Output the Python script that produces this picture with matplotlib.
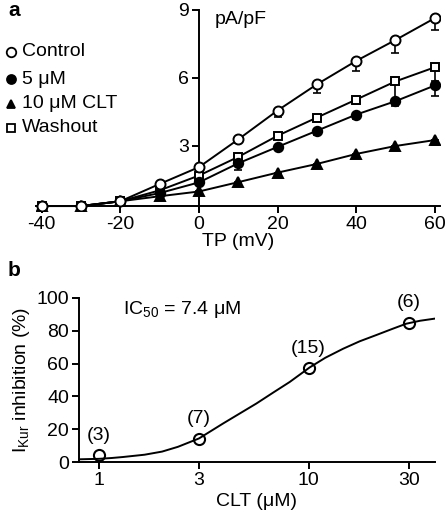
import numpy as np
import matplotlib
matplotlib.use('Agg')
import matplotlib.pyplot as plt

plt.rcParams['font.family'] = ['Liberation Sans', 'DejaVu Sans']
plt.rcParams['mathtext.fontset'] = 'custom'
plt.rcParams['mathtext.rm'] = 'Liberation Sans'
plt.rcParams['mathtext.it'] = 'Liberation Sans'
plt.rcParams['font.size'] = 14

# --- Panel a: I-V relation (pA/pF) ---
tp_mv = [-40, -30, -20, -10, 0, 10, 20, 30, 40, 50, 60]
control = [0.36, 0.36, 0.57, 1.33, 2.07, 3.29, 4.56, 5.71, 6.74, 7.66, 8.62]
control_err = [0, 0, 0, 0.08, 0.1, 0.15, 0.3, 0.4, 0.45, 0.55, 0.5]
clt5 = [0.36, 0.36, 0.57, 0.93, 1.40, 2.24, 2.96, 3.67, 4.38, 4.97, 5.66]
clt5_err = [0, 0, 0, 0.05, 0.1, 0.3, 0.15, 0.2, 0.2, 0.2, 0.45]
clt10 = [0.36, 0.36, 0.57, 0.79, 1.00, 1.41, 1.83, 2.21, 2.65, 3.00, 3.26]
clt10_err = [0, 0, 0, 0.05, 0.05, 0.05, 0.05, 0.08, 0.1, 0.1, 0.23]
washout = [0.36, 0.36, 0.57, 1.05, 1.70, 2.52, 3.45, 4.25, 5.04, 5.84, 6.46]
washout_err = [0, 0, 0, 0.05, 0.1, 0.1, 0.1, 0.15, 0.2, 0.8, 0.6]

# --- Panel b: concentration-response ---
conc_um = [1, 3, 10, 30]
inhibition = [4.2, 14.3, 57.2, 84.8]
n_cells = ['(3)', '(7)', '(15)', '(6)']
# fitted curve
fit_conc = [0.8, 1.0, 1.15, 1.3, 1.65, 2.0, 2.38, 3.0, 3.91, 4.6, 5.63, 6.8,
            8.12, 10.1, 12, 14.6, 17.5, 21, 25, 29.2, 34, 40]
fit_inh = [1.8, 2.1, 2.6, 3.2, 4.6, 6.5, 9.4, 14.5, 23.6, 29.0, 35.7, 42.5,
           48.8, 57.6, 63.5, 69.0, 73.5, 77.3, 81.0, 84.2, 86.0, 87.3]

fig = plt.figure(figsize=(4.47, 5.2), dpi=100)

# Panel a
ax1 = fig.add_axes([0.0801, 0.5937, 0.904, 0.388])
lw = 1.4
series = [
    (control, control_err, 'o', 'white', 7.2, 'Control'),
    (clt5, clt5_err, 'o', 'black', 6.8, '5 μM'),
    (clt10, clt10_err, '^', 'black', 6.8, '10 μM CLT'),
    (washout, washout_err, 's', 'white', 6.2, 'Washout'),
]
for vals, err, mk, fc, ms, lab in series:
    ax1.errorbar(tp_mv, vals, yerr=[err, [0] * len(err)], fmt='-', color='black',
                 lw=lw, elinewidth=1.2, capsize=3, capthick=1.2, zorder=2)
for vals, err, mk, fc, ms, lab in series[::-1]:
    ax1.plot(tp_mv, vals, mk, mfc=fc, mec='black', mew=1.4, ms=ms, zorder=3)

ax1.set_xlim(-41.5, 61.3)
ax1.set_ylim(0.13, 9.0)
ax1.spines['left'].set_position(('data', 0))
ax1.spines['bottom'].set_position(('data', 0.36))
ax1.spines['top'].set_visible(False)
ax1.spines['right'].set_visible(False)
for s in ('left', 'bottom'):
    ax1.spines[s].set_linewidth(1.4)
ax1.set_xticks([-40, -20, 0, 20, 40, 60])
ax1.set_xticklabels(['-40', '-20', '0', '20', '40', '60'])
ax1.set_yticks([3, 6, 9])
ax1.tick_params(direction='out', length=5, width=1.4, labelsize=14, pad=2)
ax1.set_xlabel('TP (mV)', fontsize=14, labelpad=0)
ax1.text(4, 8.95, 'pA/pF', fontsize=14, va='top', ha='left')

# legend drawn as figure text
leg_y = [52, 79, 104, 128]
for (vals, err, mk, fc, ms, lab), yp in zip(series, leg_y):
    fy = 1 - yp / 520
    fig.lines.append(plt.Line2D([11 / 447], [fy], marker=mk, mfc=fc, mec='black',
                                mew=1.3, ms=ms * 0.95, ls='none',
                                transform=fig.transFigure))
    fig.text(22 / 447, fy, lab, fontsize=14, va='center', ha='left')
fig.text(8 / 447, 1 - 11 / 520, 'a', fontsize=15, fontweight='bold', va='center')

# Panel b
ax2 = fig.add_axes([0.176, 0.111, 0.797, 0.3165])
ax2.plot(fit_conc, fit_inh, '-', color='black', lw=1.4, zorder=2)
ax2.plot(conc_um, inhibition, 'o', mfc='none', mec='black', mew=1.5, ms=8, zorder=3)
for c, v, t in zip(conc_um, inhibition, n_cells):
    ax2.text(c, v + 7, t, ha='center', va='bottom', fontsize=14)
ax2.set_xscale('log')
ax2.set_xlim(0.8, 40)
ax2.set_ylim(0, 100)
ax2.set_xticks(conc_um)
ax2.set_xticklabels(['1', '3', '10', '30'])
ax2.xaxis.set_minor_locator(matplotlib.ticker.NullLocator())
ax2.set_yticks([0, 20, 40, 60, 80, 100])
ax2.spines['top'].set_visible(False)
ax2.spines['right'].set_visible(False)
for s in ('left', 'bottom'):
    ax2.spines[s].set_linewidth(1.4)
ax2.tick_params(direction='out', length=5, width=1.4, labelsize=14, pad=2)
ax2.set_xlabel('CLT (μM)', fontsize=14, labelpad=3)
ax2.set_ylabel(r'I$_{\mathrm{Kur}}$ inhibition (%)', fontsize=14, labelpad=3)
ax2.text(1.3, 99, r'IC$_{50}$ = 7.4 μM', fontsize=14, va='top', ha='left')
fig.text(8 / 447, 1 - 271 / 520, 'b', fontsize=15, fontweight='bold', va='center')

fig.savefig('out.png', dpi=100)
